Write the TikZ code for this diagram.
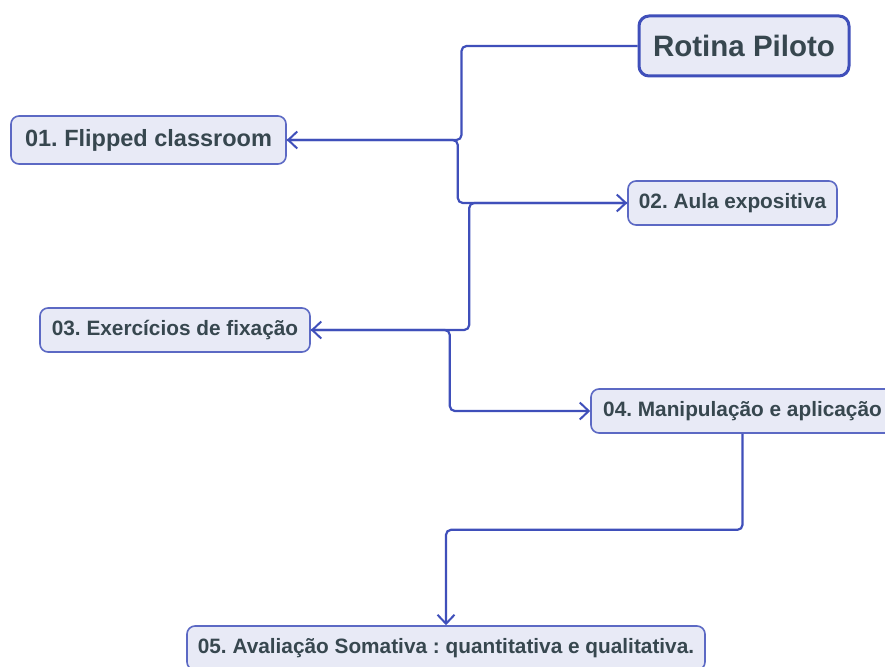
\documentclass[tikz,border=0pt]{standalone}
\usepackage{fontspec}
\setmainfont{Liberation Sans}
\usetikzlibrary{arrows.meta}
\frenchspacing

\begin{document}
\begin{tikzpicture}[x=1pt, y=-1pt, every node/.style={font=\bfseries}]
  \definecolor{linha}{HTML}{3F4FBA} \definecolor{fundo}{HTML}{E8EAF6} \definecolor{texto}{HTML}{37474F}
  \tikzstyle{etapa}=[draw=linha!85, fill=fundo, line width=1.6pt, rounded corners=8pt, text=texto, inner sep=0pt, minimum height=44pt, font=\bfseries\fontsize{20.8}{24}\selectfont]
  \tikzstyle{edge}=[-{Straight Barb[length=9pt, width=17pt, line width=2pt]}, draw=linha, line width=2.2pt, rounded corners=5pt]
  \useasboundingbox (0,0) rectangle (885,666);
  \node[etapa, line width=3pt, draw=linha, rounded corners=10pt, minimum width=210pt, minimum height=60pt, font=\bfseries\fontsize{29.5}{34}\selectfont] (rotina) at (744,46) {Rotina Piloto};
  \node[etapa, minimum width=275pt, minimum height=48pt, font=\bfseries\fontsize{23.5}{27}\selectfont] (etapa1) at (148.5,140) {01. Flipped classroom};
  \node[etapa, minimum width=209pt] (etapa2) at (732.5,203) {02. Aula expositiva};
  \node[etapa, minimum width=270pt] (etapa3) at (175,330) {03. Exercícios de fixação};
  \node[etapa, minimum width=303pt] (etapa4) at (742.5,411) {04. Manipulação e aplicação};
  \node[etapa, minimum width=518pt] (etapa5) at (446,648) {05. Avaliação Somativa : quantitativa e qualitativa.};
  %ligacoes
  \draw[edge] (rotina.west) -- ++(-176,0) |- (etapa1.east);
  \draw[edge] (etapa1.east) -- ++(171,0) |- (etapa2.west);
  \draw[edge] (etapa2.west) -- ++(-158,0) |- (etapa3.east);
  \draw[edge] (etapa3.east) -- ++(139,0) |- (etapa4.west);
  \draw[edge] (etapa4.south) -- ++(0,96) -| (etapa5.north);
\end{tikzpicture}
\end{document}
